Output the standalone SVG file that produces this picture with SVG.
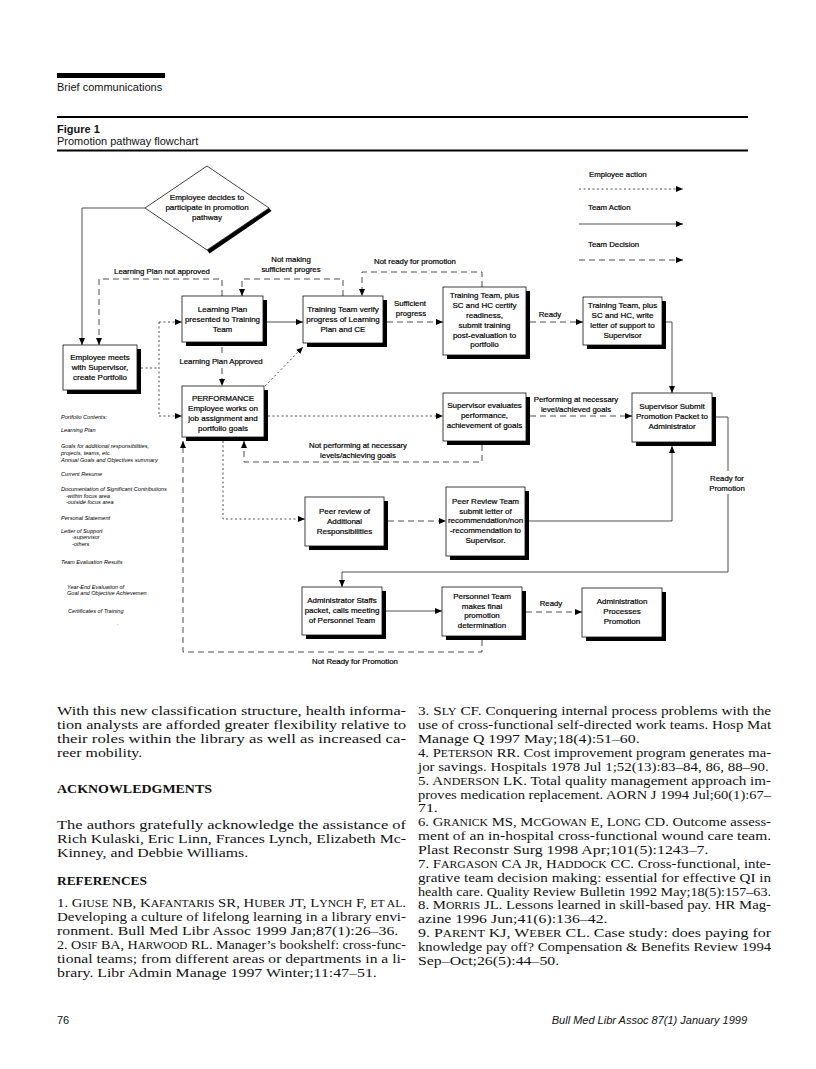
<svg xmlns="http://www.w3.org/2000/svg" width="816" height="1069" viewBox="0 0 816 1069">
<defs>
<marker id="ah" markerWidth="7" markerHeight="6" refX="7" refY="3" orient="auto" markerUnits="userSpaceOnUse"><path d="M0,0 L7,3 L0,6 z" fill="#000"/></marker>
</defs>
<style>
.sh{fill:#000}
.bx{fill:#fff;stroke:#111;stroke-width:0.8}
.t{font-family:"Liberation Sans",Arial,sans-serif;font-size:8px;text-anchor:middle;fill:#000;stroke:#000;stroke-width:0.2}
.l{font-family:"Liberation Sans",Arial,sans-serif;font-size:7.8px;text-anchor:middle;fill:#000;stroke:#000;stroke-width:0.2}
.lg{font-family:"Liberation Sans",Arial,sans-serif;font-size:7.8px;fill:#000;stroke:#000;stroke-width:0.2}
.pf{font-family:"Liberation Sans",Arial,sans-serif;font-size:5.6px;font-style:italic;fill:#000}
.c{fill:none;stroke:#222;stroke-width:0.8}
.dot{stroke-dasharray:2 2.5}
.dash{stroke-dasharray:6 4}
.arr{marker-end:url(#ah)}
.body{font-family:"Liberation Serif","Times New Roman",serif;font-size:12px;fill:#111}
.bh{font-family:"Liberation Serif","Times New Roman",serif;font-size:12px;font-weight:bold;fill:#111}
.hd{font-family:"Liberation Sans",Arial,sans-serif;font-size:11px;fill:#111}
</style>

<!-- page header -->
<g id="header">
<rect x="57" y="73" width="108" height="5" fill="#000"/>
<text class="hd" x="57" y="91">Brief communications</text>
<line x1="57" y1="117" x2="748" y2="117" stroke="#000" stroke-width="2"/>
<text class="hd" x="57" y="133" font-weight="bold">Figure 1</text>
<text class="hd" x="57" y="145">Promotion pathway flowchart</text>
<line x1="57" y1="150.5" x2="748" y2="150.5" stroke="#000" stroke-width="2"/>
</g>

<!-- legend -->
<g id="legend">
<text class="lg" x="589" y="177">Employee action</text>
<path class="c dot arr" d="M579,189 H683"/>
<text class="lg" x="588" y="210">Team Action</text>
<path class="c arr" d="M579,224 H683"/>
<text class="lg" x="588" y="247">Team Decision</text>
<path class="c dash arr" d="M579,260 H683"/>
</g>

<!-- connectors -->
<g id="connectors">
<path class="c arr" d="M145,208 H82 V345"/>
<path class="c dash arr" d="M222,296 V279 H99 V345"/>
<path class="c dash arr" d="M343,296 V279 H242 V296"/>
<path class="c dash arr" d="M482,287 V272 H362 V296"/>
<path class="c arr" d="M267,322 H303"/>
<path class="c dash arr" d="M387,322 H443"/>
<path class="c dash arr" d="M530,322 H583"/>
<path class="c arr" d="M666,322 H672 V393"/>
<path class="c dash arr" d="M530,416 H632"/>
<path class="c dot arr" d="M268,416 H443"/>
<path class="c dot" d="M141,368 H159"/>
<path class="c dot" d="M159,322 V416"/>
<path class="c dot arr" d="M159,322 H182"/>
<path class="c dot arr" d="M159,416 H182"/>
<path class="c dot arr" d="M223,441 V519 H305"/>
<path class="c dash arr" d="M482,445 V462 H244 V441"/>
<path class="c dash arr" d="M388,521 H446"/>
<path class="c arr" d="M529,521 H672 V446"/>
<path class="c" d="M716,417 H728 V471"/>
<path class="c arr" d="M728,494 V572 H342 V587"/>
<path class="c arr" d="M386,611 H442"/>
<path class="c dash arr" d="M526,612 H582"/>
<path class="c dash arr" d="M482,640 V652 H183 V441"/>
<path class="c dot arr" d="M265,386 L303,347"/>
<path class="c dash" d="M222,347 V354"/>
<path class="c dash arr" d="M222,368 V386"/>
</g>

<!-- connector labels -->
<g id="labels">
<text class="l" x="162" y="274">Learning Plan not approved</text>
<text class="l" x="291" y="262">Not making</text>
<text class="l" x="291" y="272">sufficient progres</text>
<text class="l" x="415" y="264">Not ready for promotion</text>
<text class="l" x="410" y="306">Sufficient</text>
<text class="l" x="411" y="316">progress</text>
<text class="l" x="550" y="317">Ready</text>
<text class="l" x="221" y="364">Learning Plan Approved</text>
<text class="l" x="576" y="402">Performing at necessary</text>
<text class="l" x="576" y="412">level/achieved goals</text>
<text class="l" x="358" y="448">Not performing at necessary</text>
<text class="l" x="358" y="458">levels/achieving goals</text>
<text class="l" x="727" y="481">Ready for</text>
<text class="l" x="727" y="491">Promotion</text>
<text class="l" x="551" y="606">Ready</text>
<text class="l" x="355" y="664">Not Ready for Promotion</text>
</g>

<!-- nodes -->
<g id="decide">
<polygon class="sh" points="269,208 271.5,211 209.5,253.5 207,250"/>
<polygon class="bx" points="207,166 269,208 207,250 145,208"/>
<text class="t"><tspan x="207" y="199.5">Employee decides to</tspan><tspan x="207" y="209.5">participate in promotion</tspan><tspan x="207" y="219.5">pathway</tspan></text>
</g>

<g id="emp_meets">
<rect class="sh" x="67" y="349" width="74" height="45"/>
<rect class="bx" x="63" y="345" width="74" height="45"/>
<text class="t"><tspan x="100" y="360">Employee meets</tspan><tspan x="100" y="370">with Supervisor,</tspan><tspan x="100" y="380">create Portfolio</tspan></text>
</g>

<g id="learning_plan">
<rect class="sh" x="186" y="300" width="81" height="46"/>
<rect class="bx" x="182" y="296" width="81" height="46"/>
<text class="t"><tspan x="222.5" y="312.1">Learning Plan</tspan><tspan x="222.5" y="321.9">presented to Training</tspan><tspan x="222.5" y="331.7">Team</tspan></text>
</g>

<g id="verify">
<rect class="sh" x="307" y="300" width="80" height="47"/>
<rect class="bx" x="303" y="296" width="80" height="47"/>
<text class="t"><tspan x="343" y="312.1">Training Team verify</tspan><tspan x="343" y="321.9">progress of Learning</tspan><tspan x="343" y="331.7">Plan and CE</tspan></text>
</g>

<g id="certify">
<rect class="sh" x="447" y="291" width="83" height="68"/>
<rect class="bx" x="443" y="287" width="83" height="68"/>
<text class="t"><tspan x="484.5" y="298.4">Training Team, plus</tspan><tspan x="484.5" y="308.2">SC and HC certify</tspan><tspan x="484.5" y="318">readiness,</tspan><tspan x="484.5" y="327.8">submit training</tspan><tspan x="484.5" y="337.6">post-evaluation to</tspan><tspan x="484.5" y="347.4">portfolio</tspan></text>
</g>

<g id="letter">
<rect class="sh" x="587" y="301" width="79" height="48"/>
<rect class="bx" x="583" y="297" width="79" height="48"/>
<text class="t"><tspan x="622.5" y="308.2">Training Team, plus</tspan><tspan x="622.5" y="318">SC and HC, write</tspan><tspan x="622.5" y="327.8">letter of support to</tspan><tspan x="622.5" y="337.6">Supervisor</tspan></text>
</g>

<g id="performance">
<rect class="sh" x="186" y="390" width="82" height="51"/>
<rect class="bx" x="182" y="386" width="82" height="51"/>
<text class="t"><tspan x="223" y="401.2">PERFORMANCE</tspan><tspan x="223" y="411">Employee works on</tspan><tspan x="223" y="420.8">job assignment and</tspan><tspan x="223" y="430.6">portfolio goals</tspan></text>
</g>

<g id="sup_eval">
<rect class="sh" x="447" y="397" width="83" height="48"/>
<rect class="bx" x="443" y="393" width="83" height="48"/>
<text class="t"><tspan x="484.5" y="408.1">Supervisor evaluates</tspan><tspan x="484.5" y="417.9">performance,</tspan><tspan x="484.5" y="427.7">achievement of goals</tspan></text>
</g>

<g id="sup_submit">
<rect class="sh" x="636" y="397" width="80" height="49"/>
<rect class="bx" x="632" y="393" width="80" height="49"/>
<text class="t"><tspan x="672" y="409.1">Supervisor Submit</tspan><tspan x="672" y="418.9">Promotion Packet to</tspan><tspan x="672" y="428.7">Administrator</tspan></text>
</g>

<g id="peer_review">
<rect class="sh" x="309" y="501" width="79" height="49"/>
<rect class="bx" x="305" y="497" width="79" height="49"/>
<text class="t"><tspan x="344.5" y="514.1">Peer review of</tspan><tspan x="344.5" y="523.9">Additional</tspan><tspan x="344.5" y="533.7">Responsibilities</tspan></text>
</g>

<g id="peer_team">
<rect class="sh" x="450" y="491" width="79" height="69"/>
<rect class="bx" x="446" y="487" width="79" height="69"/>
<text class="t"><tspan x="485.5" y="503.8">Peer Review Team</tspan><tspan x="485.5" y="513.6">submit letter of</tspan><tspan x="485.5" y="523.4">recommendation/non</tspan><tspan x="485.5" y="533.2">-recommendation to</tspan><tspan x="485.5" y="543">Supervisor.</tspan></text>
</g>

<g id="admin_staffs">
<rect class="sh" x="306" y="591" width="80" height="48"/>
<rect class="bx" x="302" y="587" width="80" height="48"/>
<text class="t"><tspan x="342" y="603.1">Administrator Staffs</tspan><tspan x="342" y="612.9">packet, calls meeting</tspan><tspan x="342" y="622.7">of Personnel Team</tspan></text>
</g>

<g id="personnel">
<rect class="sh" x="446" y="591" width="80" height="49"/>
<rect class="bx" x="442" y="587" width="80" height="49"/>
<text class="t"><tspan x="482" y="598.7">Personnel Team</tspan><tspan x="482" y="608.5">makes final</tspan><tspan x="482" y="618.3">promotion</tspan><tspan x="482" y="628.1">determination</tspan></text>
</g>

<g id="admin_proc">
<rect class="sh" x="586" y="592" width="80" height="49"/>
<rect class="bx" x="582" y="588" width="80" height="49"/>
<text class="t"><tspan x="622" y="604.1">Administration</tspan><tspan x="622" y="613.9">Processes</tspan><tspan x="622" y="623.7">Promotion</tspan></text>
</g>

<!-- portfolio contents list -->
<g id="portfolio">
<text class="pf" x="61" y="419" font-style="normal">Portfolio Contents:</text>
<text class="pf" x="61" y="432">Learning Plan</text>
<text class="pf" x="61" y="448">Goals for additional responsibilities,</text>
<text class="pf" x="61" y="455">projects, teams, etc.</text>
<text class="pf" x="61" y="462">Annual Goals and Objectives summary</text>
<text class="pf" x="61" y="476">Current Resume</text>
<text class="pf" x="61" y="491">Documentation of Significant Contributions</text>
<text class="pf" x="66" y="498">-within focus area</text>
<text class="pf" x="66" y="504">-outside focus area</text>
<text class="pf" x="61" y="520">Personal Statement</text>
<text class="pf" x="61" y="533">Letter of Support</text>
<text class="pf" x="72" y="539">-supervisor</text>
<text class="pf" x="72" y="546">-others</text>
<text class="pf" x="61" y="564">Team Evaluation Results</text>
<text class="pf" x="67" y="589">Year-End Evaluation of</text>
<text class="pf" x="67" y="595">Goal and Objective Achievemen</text>
<text class="pf" x="68" y="613">Certificates of Training</text>
<text class="pf" x="117" y="625">.</text>
</g>

<!-- body text: headings -->
<g id="headings">
<text class="bh" x="57" y="793" textLength="155" lengthAdjust="spacingAndGlyphs">ACKNOWLEDGMENTS</text>
<text class="bh" x="57" y="884.5" textLength="90" lengthAdjust="spacingAndGlyphs">REFERENCES</text>
</g>

<!-- body text left column, justified lines -->
<g id="body_left_j" transform="translate(57,0) scale(1.15,1)">
<text class="body" x="0" y="715.5" textLength="303.5" lengthAdjust="spacingAndGlyphs">With this new classification structure, health informa-</text>
<text class="body" x="0" y="729.4" textLength="303.5" lengthAdjust="spacingAndGlyphs">tion analysts are afforded greater flexibility relative to</text>
<text class="body" x="0" y="743.2" textLength="303.5" lengthAdjust="spacingAndGlyphs">their roles within the library as well as increased ca-</text>
<text class="body" x="0" y="829" textLength="303.5" lengthAdjust="spacingAndGlyphs">The authors gratefully acknowledge the assistance of</text>
<text class="body" x="0" y="843" textLength="303.5" lengthAdjust="spacingAndGlyphs">Rich Kulaski, Eric Linn, Frances Lynch, Elizabeth Mc-</text>
<text class="body" x="0" y="907.5" textLength="303.5" lengthAdjust="spacingAndGlyphs">1. G<tspan font-size="9.5">IUSE</tspan> NB, K<tspan font-size="9.5">AFANTARIS</tspan> SR, H<tspan font-size="9.5">UBER</tspan> JT, L<tspan font-size="9.5">YNCH</tspan> F, <tspan font-size="9.5">ET AL</tspan>.</text>
<text class="body" x="0" y="921.4" textLength="303.5" lengthAdjust="spacingAndGlyphs">Developing a culture of lifelong learning in a library envi-</text>
<text class="body" x="0" y="949" textLength="303.5" lengthAdjust="spacingAndGlyphs">2. O<tspan font-size="9.5">SIF</tspan> BA, H<tspan font-size="9.5">ARWOOD</tspan> RL. Manager’s bookshelf: cross-func-</text>
<text class="body" x="0" y="963" textLength="303.5" lengthAdjust="spacingAndGlyphs">tional teams; from different areas or departments in a li-</text>
</g>

<!-- body text left column, last lines -->
<g id="body_left_n" transform="translate(57,0) scale(1.32,1)">
<text class="body" x="0" y="757.1">reer mobility.</text>
<text class="body" x="0" y="857">Kinney, and Debbie Williams.</text>
<text class="body" x="0" y="935.2">ronment. Bull Med Libr Assoc 1999 Jan;87(1):26–36.</text>
<text class="body" x="0" y="976.8">brary. Libr Admin Manage 1997 Winter;11:47–51.</text>
</g>

<!-- body text right column, justified lines -->
<g id="body_right_j" transform="translate(418,0) scale(1.15,1)">
<text class="body" x="0" y="715.5" textLength="307" lengthAdjust="spacingAndGlyphs">3. S<tspan font-size="9.5">LY</tspan> CF. Conquering internal process problems with the</text>
<text class="body" x="0" y="729.4" textLength="307" lengthAdjust="spacingAndGlyphs">use of cross-functional self-directed work teams. Hosp Mat</text>
<text class="body" x="0" y="757.1" textLength="307" lengthAdjust="spacingAndGlyphs">4. P<tspan font-size="9.5">ETERSON</tspan> RR. Cost improvement program generates ma-</text>
<text class="body" x="0" y="770.9" textLength="305" lengthAdjust="spacingAndGlyphs">jor savings. Hospitals 1978 Jul 1;52(13):83–84, 86, 88–90.</text>
<text class="body" x="0" y="784.8" textLength="307" lengthAdjust="spacingAndGlyphs">5. A<tspan font-size="9.5">NDERSON</tspan> LK. Total quality management approach im-</text>
<text class="body" x="0" y="798.6" textLength="307" lengthAdjust="spacingAndGlyphs">proves medication replacement. AORN J 1994 Jul;60(1):67–</text>
<text class="body" x="0" y="826.3" textLength="307" lengthAdjust="spacingAndGlyphs">6. G<tspan font-size="9.5">RANICK</tspan> MS, M<tspan font-size="9.5">C</tspan>G<tspan font-size="9.5">OWAN</tspan> E, L<tspan font-size="9.5">ONG</tspan> CD. Outcome assess-</text>
<text class="body" x="0" y="840.2" textLength="307" lengthAdjust="spacingAndGlyphs">ment of an in-hospital cross-functional wound care team.</text>
<text class="body" x="0" y="867.9" textLength="307" lengthAdjust="spacingAndGlyphs">7. F<tspan font-size="9.5">ARGASON</tspan> CA J<tspan font-size="9.5">R</tspan>, H<tspan font-size="9.5">ADDOCK</tspan> CC. Cross-functional, inte-</text>
<text class="body" x="0" y="881.7" textLength="307" lengthAdjust="spacingAndGlyphs">grative team decision making: essential for effective QI in</text>
<text class="body" x="0" y="895.6" textLength="307" lengthAdjust="spacingAndGlyphs">health care. Quality Review Bulletin 1992 May;18(5):157–63.</text>
<text class="body" x="0" y="909.4" textLength="307" lengthAdjust="spacingAndGlyphs">8. M<tspan font-size="9.5">ORRIS</tspan> JL. Lessons learned in skill-based pay. HR Mag-</text>
<text class="body" x="0" y="937.1" textLength="307" lengthAdjust="spacingAndGlyphs">9. P<tspan font-size="9.5">ARENT</tspan> KJ, W<tspan font-size="9.5">EBER</tspan> CL. Case study: does paying for</text>
<text class="body" x="0" y="951" textLength="307" lengthAdjust="spacingAndGlyphs">knowledge pay off? Compensation &amp; Benefits Review 1994</text>
</g>

<!-- body text right column, last lines -->
<g id="body_right_n" transform="translate(418,0) scale(1.32,1)">
<text class="body" x="0" y="743.2">Manage Q 1997 May;18(4):51–60.</text>
<text class="body" x="0" y="812.5">71.</text>
<text class="body" x="0" y="854">Plast Reconstr Surg 1998 Apr;101(5):1243–7.</text>
<text class="body" x="0" y="923.3">azine 1996 Jun;41(6):136–42.</text>
<text class="body" x="0" y="964.8">Sep–Oct;26(5):44–50.</text>
</g>

<!-- footer -->
<g id="footer">
<text class="hd" x="57" y="1024" font-size="10.5">76</text>
<text class="hd" x="747" y="1024" font-size="10.5" font-style="italic" text-anchor="end">Bull Med Libr Assoc 87(1) January 1999</text>
</g>
</svg>
